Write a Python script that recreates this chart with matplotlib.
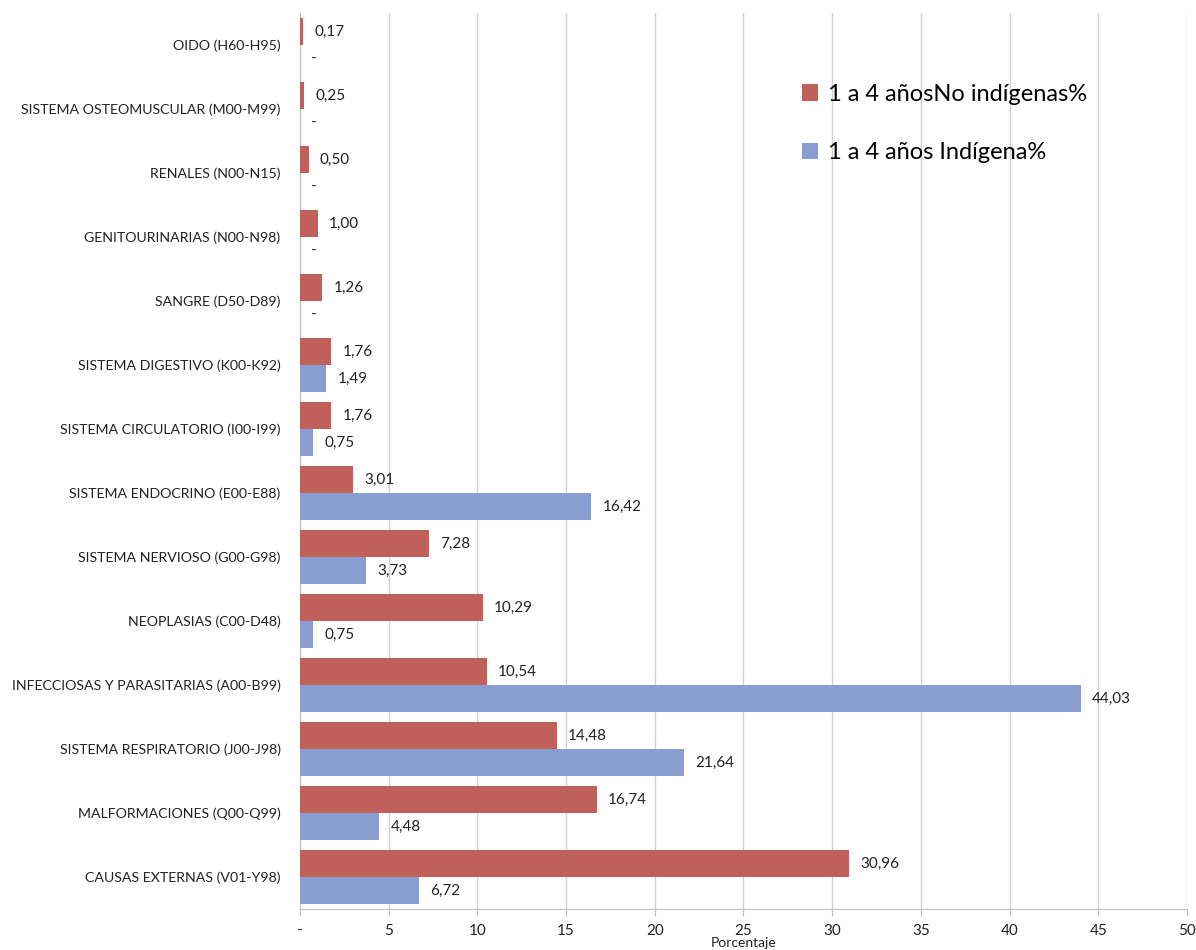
import matplotlib
matplotlib.use('Agg')
import matplotlib.pyplot as plt
import numpy as np

categories = ['OIDO (H60-H95)', 'SISTEMA OSTEOMUSCULAR (M00-M99)', 'RENALES (N00-N15)',
              'GENITOURINARIAS (N00-N98)', 'SANGRE (D50-D89)', 'SISTEMA DIGESTIVO (K00-K92)',
              'SISTEMA CIRCULATORIO (I00-I99)', 'SISTEMA ENDOCRINO (E00-E88)',
              'SISTEMA NERVIOSO (G00-G98)', 'NEOPLASIAS (C00-D48)',
              'INFECCIOSAS Y PARASITARIAS (A00-B99)', 'SISTEMA RESPIRATORIO (J00-J98)',
              'MALFORMACIONES (Q00-Q99)', 'CAUSAS EXTERNAS (V01-Y98)']
no_indigena = [0.17, 0.25, 0.50, 1.00, 1.26, 1.76, 1.76, 3.01, 7.28, 10.29, 10.54, 14.48, 16.74, 30.96]
indigena = [0, 0, 0, 0, 0, 1.49, 0.75, 16.42, 3.73, 0.75, 44.03, 21.64, 4.48, 6.72]
xticks = [0, 5, 10, 15, 20, 25, 30, 35, 40, 45, 50]
xticklabels = ['-', '5', '10', '15', '20', '25', '30', '35', '40', '45', '50']

plt.rcParams['font.family'] = ['Lato', 'DejaVu Sans']

red = '#C0605B'
blue = '#8A9DD0'

fig = plt.figure(figsize=(11.96, 9.5), dpi=100)
ax = fig.add_axes([0.2508, 0.0432, 0.7417, 0.943])

y = np.arange(len(categories))
h = 0.42
ax.barh(y - h / 2, no_indigena, height=h, color=red, label='1 a 4 añosNo indígenas%', zorder=3)
ax.barh(y + h / 2, indigena, height=h, color=blue, label='1 a 4 años Indígena%', zorder=3)

def fmt(v):
    return '-' if v == 0 else f'{v:.2f}'.replace('.', ',')

for yi, v in zip(y, no_indigena):
    ax.annotate(fmt(v), (v, yi - h / 2), xytext=(8, 0), textcoords='offset points',
                va='center', ha='left', fontsize=11, color='#222222')
for yi, v in zip(y, indigena):
    ax.annotate(fmt(v), (v, yi + h / 2), xytext=(8, 0), textcoords='offset points',
                va='center', ha='left', fontsize=11, color='#222222')

ax.set_ylim(len(categories) - 0.5, -0.5)
ax.set_xlim(0, 50)
ax.set_yticks(y)
ax.set_yticklabels(categories, fontsize=10.2, color='#222222')
ax.tick_params(axis='y', length=0, pad=14)
ax.set_xticks(xticks)
ax.set_xticklabels(xticklabels, fontsize=11, color='#222222')
ax.tick_params(axis='x', length=5, pad=6, color='#bfbfbf')

ax.grid(axis='x', color='#d0d0d0', lw=1, zorder=0)
for s in ['top', 'right']:
    ax.spines[s].set_visible(False)
ax.spines['left'].set_color('#bfbfbf')
ax.spines['bottom'].set_color('#bfbfbf')

# axis title sits at the very bottom edge, as in the original
fig.text(0.2508 + 0.7417 / 2, 0.001, 'Porcentaje', ha='center', va='bottom',
         fontsize=10, color='#222222')

leg = ax.legend(loc='upper right', bbox_to_anchor=(0.911, 0.945), frameon=False,
                fontsize=17, handlelength=0.7, handleheight=0.7, labelspacing=1.6,
                handletextpad=0.4)

fig.savefig('out.png', dpi=100)
